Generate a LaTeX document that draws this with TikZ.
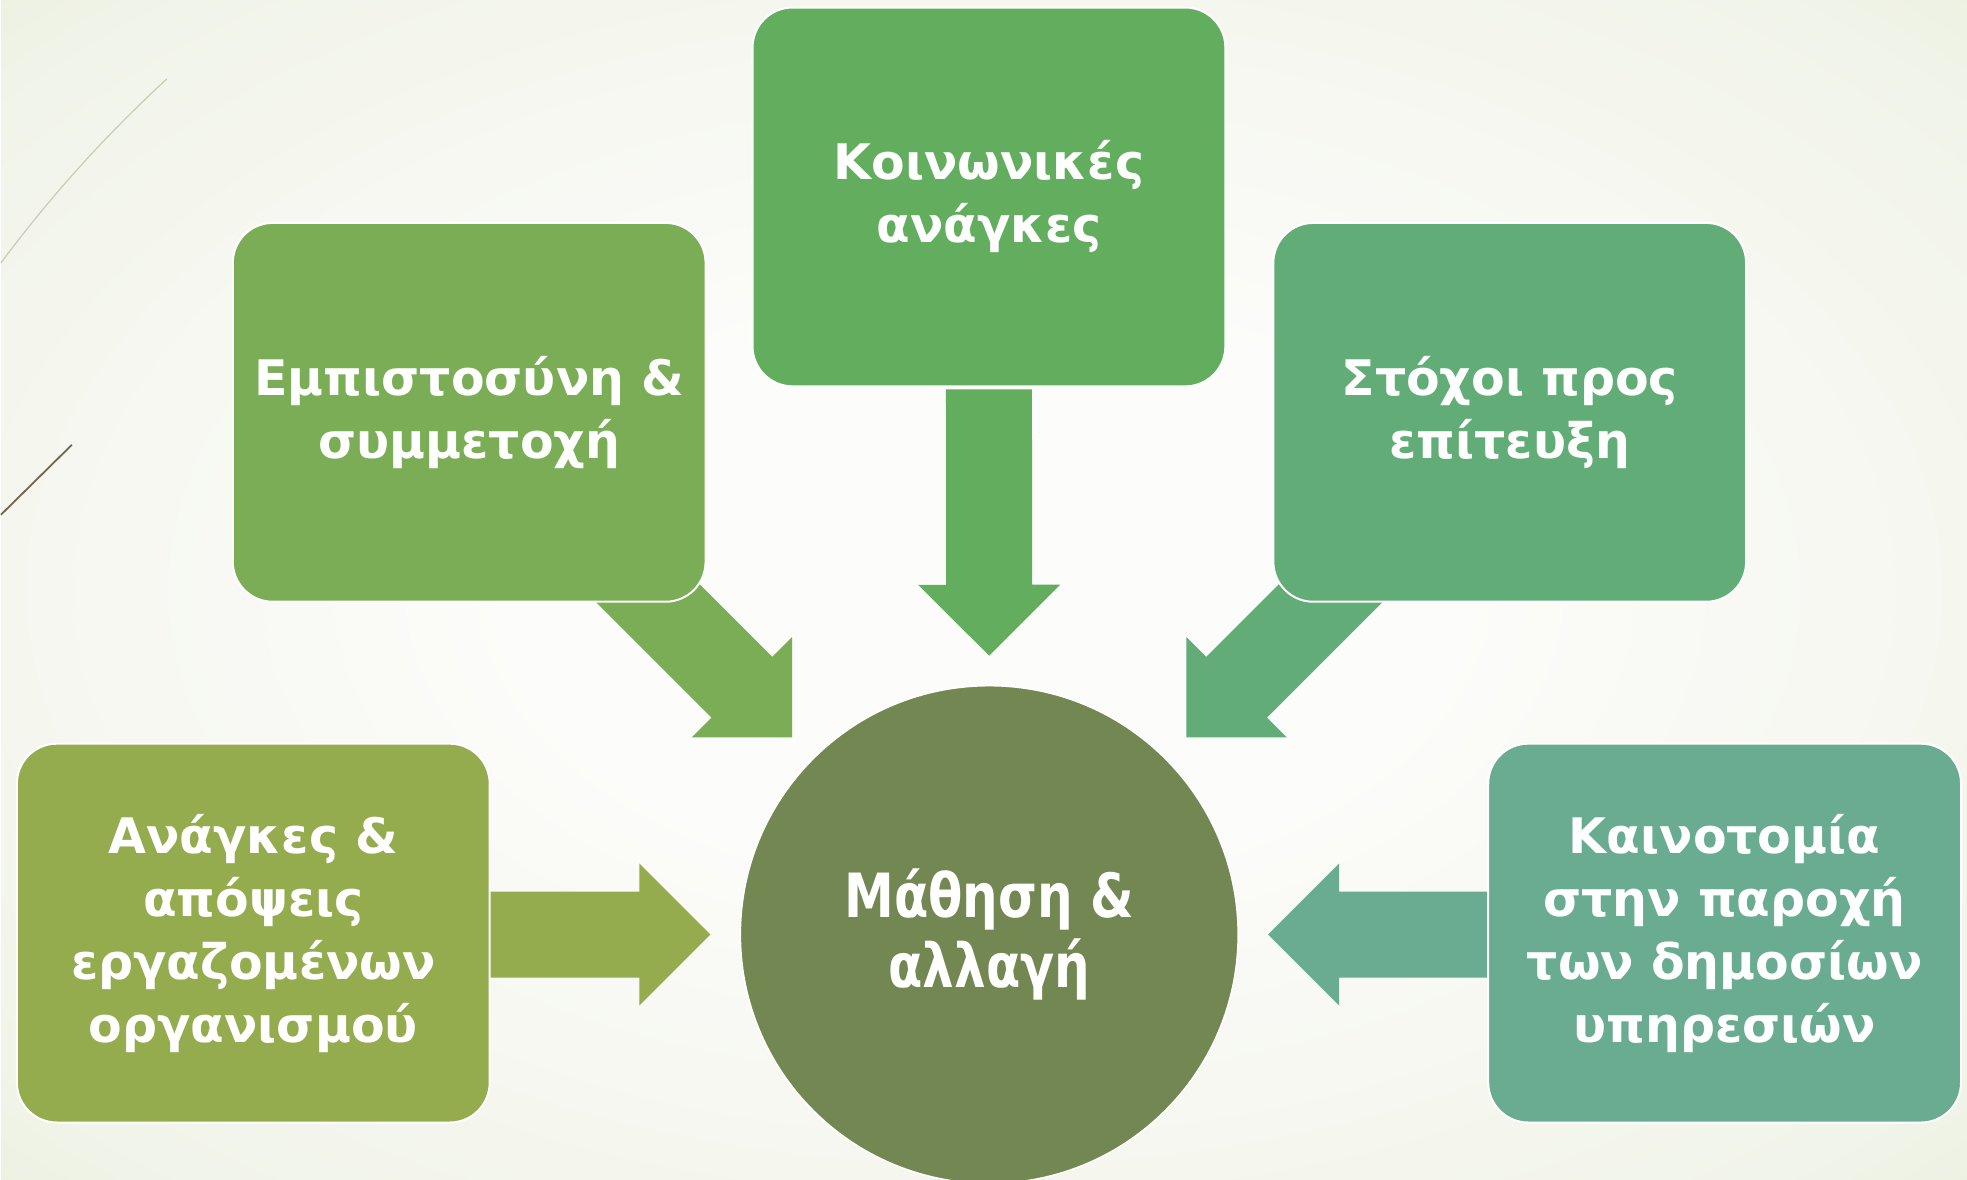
\documentclass[tikz,border=0pt]{standalone}
\usepackage{fontspec}
\setmainfont{DejaVu Sans}
\newfontfamily\circfont{DejaVu Sans}[FakeStretch=0.82]
\usetikzlibrary{calc}
\definecolor{bgin}{HTML}{FCFCFA}
\definecolor{bgmid}{HTML}{F1F4E9}
\definecolor{bgout}{HTML}{DCE6C6}
\definecolor{cTop}{HTML}{62AD5E}
\definecolor{cLU}{HTML}{7AAD55}
\definecolor{cRU}{HTML}{62AD77}
\definecolor{cLL}{HTML}{94AB4E}
\definecolor{cRL}{HTML}{6AAC91}
\definecolor{cCirc}{HTML}{728752}
\definecolor{decoA}{HTML}{C8CCB4}
\definecolor{decoB}{HTML}{6E6852}
\pgfdeclareradialshading{bgshade}{\pgfpoint{0bp}{0bp}}{color(0bp)=(bgin); color(12bp)=(bgin); color(32bp)=(bgmid); color(50bp)=(bgout)}
\pgfdeclarelayer{bglayer}
\pgfdeclarelayer{arrowlayer}
\pgfsetlayers{bglayer,arrowlayer,main}
\newcommand\blockarrow[3]{%
  \coordinate (bah) at ($(#2)!35.5pt!(#1)$);
  \fill[#3] ($(#1)!21.5pt!90:(#2)$) -- ($(bah)!21.5pt!90:(#2)$) -- ($(bah)!35.5pt!90:(#2)$) -- (#2) -- ($(bah)!35.5pt!-90:(#2)$) -- ($(bah)!21.5pt!-90:(#2)$) -- ($(#1)!21.5pt!-90:(#2)$) -- cycle;}
\begin{document}
\begin{tikzpicture}[x=0.5pt,y=-0.5pt,
  box/.style={rectangle, rounded corners=20pt, draw=white, line width=1pt,
    minimum width=236.5pt, minimum height=189.5pt, inner sep=0pt,
    text=white, align=center, font=\bfseries\fontsize{24.5}{31.5}\selectfont},
  hub/.style={circle, fill=cCirc, draw=white, line width=0.75pt,
    minimum size=249pt, inner sep=0pt, text=white, align=center,
    font=\circfont\bfseries\fontsize{30.5}{35}\selectfont}]
\begin{pgfonlayer}{bglayer}
\shade[shading=bgshade] (0,0) rectangle (1967,1180);
\draw[decoA, line width=0.6pt] (0,263) .. controls (50,196) and (105,135) .. (166,79);
\draw[decoB, line width=0.9pt] (0,515) -- (71,445);
\end{pgfonlayer}
\useasboundingbox (0,0) rectangle (1967,1180);

\node[box, fill=cTop] (top) at (988.5,197) {Κοινωνικές\\ανάγκες};
\node[box, fill=cLU] (lu) at (468.5,412.5) {Εμπιστοσύνη \&\\συμμετοχή};
\node[box, fill=cRU] (ru) at (1509.5,412.5) {Στόχοι προς\\επίτευξη};
\node[box, fill=cLL] (ll) at (252.5,933.5) {Ανάγκες \&\\απόψεις\\εργαζομένων\\οργανισμού};
\node[box, fill=cRL] (rl) at (1724.5,933.5) {Καινοτομία\\στην παροχή\\των δημοσίων\\υπηρεσιών};
\node[hub] (c) at (988.8,935) {Μάθηση \&\\αλλαγή};

\coordinate (tD) at ($(c.center)!139.5pt!(c.north)$);
\coordinate (tL) at ($(c.center)!139.5pt!(c.north west)$);
\coordinate (tR) at ($(c.center)!139.5pt!(c.north east)$);
\coordinate (tW) at ($(c.center)!139.5pt!(c.west)$);
\coordinate (tE) at ($(c.center)!139.5pt!(c.east)$);
\coordinate (sD) at ($(top.south)+(0,-1pt)$);
\coordinate (sL) at ($(tL)+(-100pt,100pt)$);
\coordinate (sR) at ($(tR)+(100pt,100pt)$);
\coordinate (sW) at ($(tW)+(-120pt,0pt)$);
\coordinate (sE) at ($(tE)+(120pt,0pt)$);

\begin{pgfonlayer}{arrowlayer}
\blockarrow{sD}{tD}{cTop}
\blockarrow{sL}{tL}{cLU}
\blockarrow{sR}{tR}{cRU}
\blockarrow{sW}{tW}{cLL}
\blockarrow{sE}{tE}{cRL}
\end{pgfonlayer}
\end{tikzpicture}
\end{document}
